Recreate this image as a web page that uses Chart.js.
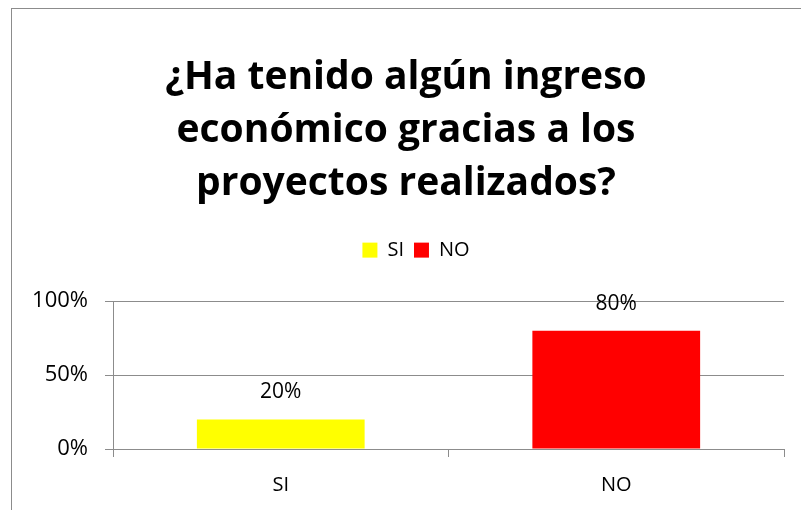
<!DOCTYPE html>
<html>
<head>
<meta charset="utf-8">
<script src="https://cdn.jsdelivr.net/npm/chart.js@4"></script>
<style>
  body { margin: 0; background: #fff; }
  .wrap { position: relative; width: 801px; height: 510px; overflow: hidden; }
  .frame { position: absolute; left: 11px; top: 8px; width: 900px; height: 600px; border-left: 1px solid #8c8c8c; border-top: 1px solid #8c8c8c; }
  canvas { position: absolute; left: 0; top: 0; }
</style>
</head>
<body>
<div class="wrap">
  <div class="frame"></div>
  <canvas id="chart" width="801" height="510"></canvas>
</div>
<script>
const categories = ["SI", "NO"];
const values = [20, 80];
const barColors = ["#ffff00", "#ff0000"];
const yTicks = [0, 50, 100];
const titleLines = ["¿Ha tenido algún ingreso", "económico gracias a los", "proyectos realizados?"];

const gridColor = "#8c8c8c";
const font = "'Open Sans'";

// etiquetas encima de cada barra
const valueLabels = {
  id: "valueLabels",
  afterDatasetsDraw(chart) {
    const { ctx } = chart;
    const meta = chart.getDatasetMeta(0);
    ctx.save();
    ctx.font = "21px " + font;
    ctx.fillStyle = "#000";
    ctx.textAlign = "center";
    ctx.textBaseline = "middle";
    meta.data.forEach((bar, i) => {
      ctx.fillText(values[i] + "%", bar.x, bar.y - 27);
    });
    ctx.restore();
  },
};

// espacio extra debajo de la leyenda y leyenda un poco a la derecha
const legendGap = {
  id: "legendGap",
  beforeInit(chart) {
    const fit = chart.legend.fit;
    chart.legend.fit = function () {
      fit.bind(chart.legend)();
      this.height += 31;
    };
  },
  afterLayout(chart) {
    chart.legend.left += 10;
    chart.legend.right += 10;
  },
};

new Chart(document.getElementById("chart"), {
  type: "bar",
  data: {
    labels: categories,
    datasets: [
      {
        data: values,
        backgroundColor: barColors,
        barPercentage: 1,
        categoryPercentage: 0.5,
      },
    ],
  },
  options: {
    responsive: false,
    animation: false,
    devicePixelRatio: 1,
    layout: { padding: { left: 28, right: 17, top: 0, bottom: 0 } },
    plugins: {
      tooltip: { enabled: false },
      title: {
        display: true,
        text: titleLines,
        color: "#000",
        font: { family: font, size: 39, weight: "bold", lineHeight: 1.36 },
        padding: { top: 51, bottom: 20 },
      },
      legend: {
        display: true,
        labels: {
          color: "#000",
          font: { family: font, size: 20 },
          boxWidth: 15,
          boxHeight: 15,
          padding: 10,
          generateLabels: () =>
            categories.map((c, i) => ({
              text: c,
              fillStyle: barColors[i],
              strokeStyle: barColors[i],
              lineWidth: 0,
              index: i,
            })),
        },
      },
    },
    scales: {
      x: {
        offset: true,
        grid: {
          offset: true,
          drawOnChartArea: false,
          color: gridColor,
          tickLength: 8,
        },
        border: { color: gridColor },
        ticks: { color: "#000", font: { family: font, size: 20 }, padding: 16 },
        afterFit(scale) {
          scale.height = 61;
        },
      },
      y: {
        min: 0,
        max: 100,
        afterBuildTicks(scale) {
          scale.ticks = yTicks.map((v) => ({ value: v }));
        },
        grid: { color: gridColor, tickLength: 8 },
        border: { color: gridColor },
        ticks: {
          color: "#000",
          font: { family: font, size: 22 },
          padding: 17,
          callback: (v) => v + "%",
        },
        afterFit(scale) {
          scale.width = 85;
        },
      },
    },
  },
  plugins: [valueLabels, legendGap],
});
</script>
</body>
</html>
